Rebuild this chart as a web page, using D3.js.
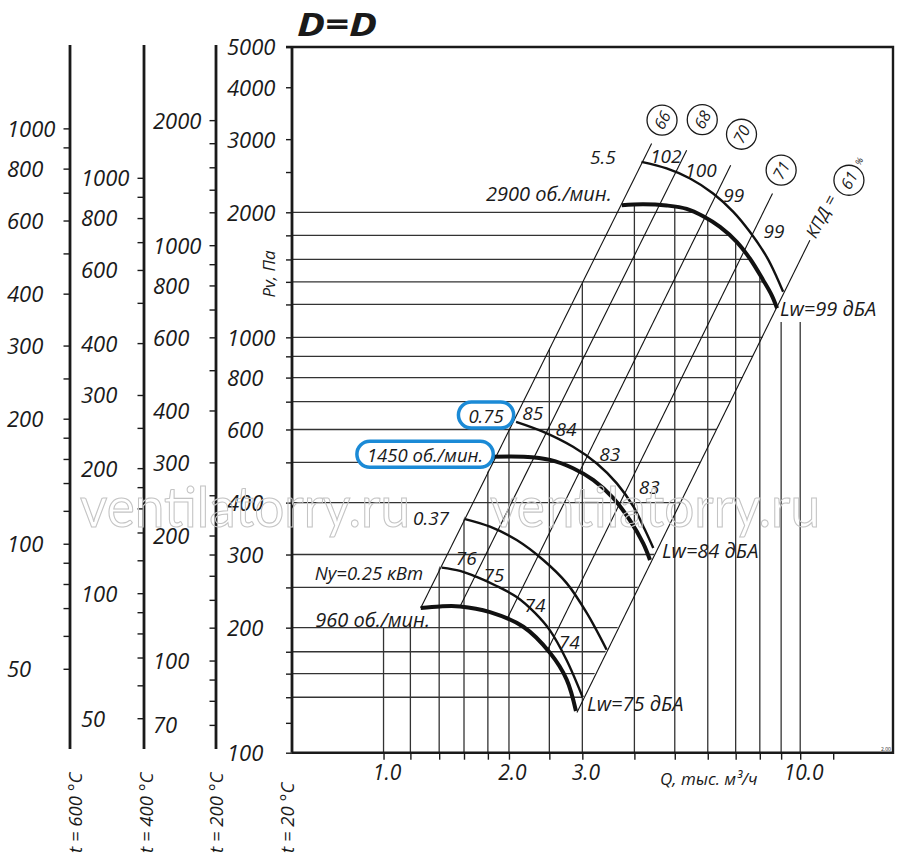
<!DOCTYPE html>
<html>
<head>
<meta charset="utf-8">
<script src="https://cdn.jsdelivr.net/npm/d3@7"></script>
<style>
  body { margin: 0; background: #fff; }
  svg text { font-family: "Open Sans", "DejaVu Sans", sans-serif; font-style: italic; fill: #1a1a1a; }
</style>
</head>
<body>
<svg id="chart" width="900" height="860"></svg>
<script>
// ---- values ----
var qRange = [0.603, 16.7];          // Q, thousand m3/h (log)
var pRange = [100, 5000];            // Pv, Pa (log)

var qTicks  = [1, 1.16, 1.36, 1.56, 1.78, 2, 2.5, 3, 4, 5, 6, 7, 8, 9, 10, 12];
var qGrid   = [1, 1.16, 1.36, 1.56, 1.78, 2, 2.5, 3, 4, 5, 6, 7, 8, 9, 10];
var qLabels = [1, 2, 3, 10];

var pTicks  = [5000, 4000, 3000, 2500, 2000, 1760, 1540, 1360, 1200, 1000, 900, 800, 700, 600,
               500, 400, 300, 250, 200, 175, 155, 136, 118, 100];
var pGrid   = [2000, 1760, 1540, 1360, 1200, 1000, 900, 800, 700, 600, 500, 400, 300, 250,
               200, 175, 155, 136, 118];
var pLabels = [5000, 4000, 3000, 2000, 1000, 800, 600, 400, 300, 200, 100];

// pressure scales for hot gas
var tempNames  = ["t = 600 °C", "t = 400 °C", "t = 200 °C"];
var tempRatio  = [0.314, 0.413, 0.6];
var tempTicks  = [
  [1000, 900, 800, 700, 600, 500, 400, 300, 250, 200, 180, 160, 140, 120, 100, 90, 80, 70, 60, 50],
  [1000, 900, 800, 700, 600, 500, 400, 300, 250, 200, 180, 160, 140, 120, 100, 90, 80, 70, 60, 50],
  [2000, 1760, 1540, 1360, 1200, 1000, 900, 800, 700, 600, 500, 400, 300, 250, 200, 180, 160, 140, 120, 100, 90, 80, 70]
];
var tempLabels = [
  [1000, 800, 600, 400, 300, 200, 100, 50],
  [1000, 800, 600, 400, 300, 200, 100, 50],
  [2000, 1000, 800, 600, 400, 300, 200, 100, 70]
];

// fan curves (thick) and power curves (thin)
var q2900 = [3.73, 4.20, 4.78, 5.34, 5.85, 6.42, 7.04, 7.57, 8.15, 8.54, 8.80];
var p2900 = [2081, 2092, 2077, 2039, 1957, 1845, 1698, 1548, 1373, 1264, 1175];
var q1450 = [1.83, 2.17, 2.51, 2.85, 3.19, 3.56, 3.90, 4.20, 4.36];
var p1450 = [516, 516, 507, 484, 453, 410, 363, 319, 291];
var q960  = [1.228, 1.366, 1.526, 1.801, 2.165, 2.508, 2.751, 2.896];
var p960  = [223, 225, 225, 218, 201, 174, 150, 126];

var qN55  = [4.16, 4.78, 5.44, 6.18, 6.91, 7.57, 8.31, 8.78, 9.10];
var pN55  = [2645, 2550, 2412, 2220, 2005, 1795, 1562, 1398, 1287];
var qN075 = [2.08, 2.42, 2.85, 3.25, 3.63, 3.98, 4.24, 4.44];
var pN075 = [626, 592, 545, 497, 445, 391, 344, 311];
var qN037 = [1.569, 1.801, 2.087, 2.417, 2.751, 3.074, 3.431];
var pN037 = [365, 350, 325, 291, 256, 217, 177];
var qN025 = [1.379, 1.526, 1.673, 1.868, 2.087, 2.309, 2.508, 2.751, 3.006];
var pN025 = [279, 274, 265, 252, 237, 217, 197, 167, 136];

// efficiency (system) lines: top end, bottom end, circled mark
var effNames  = ["66", "68", "70", "71", "61"];
var effTop    = [[4.40, 2929], [5.34, 2821], [6.81, 2597], [8.58, 2220], [10.55, 1713]];
var effBottom = [[1.228, 223], [1.526, 225], [1.975, 209], [2.464, 175], [2.912, 125]];
var effMark   = [[4.66, 3333], [5.82, 3342], [7.23, 3083], [9.00, 2526], [13.09, 2389]];

// noise levels along the power curves
var noiseText = ["102", "100", "99", "99", "85", "84", "83", "83", "76", "75", "74", "74"];
var noiseQ    = [4.76, 5.78, 6.93, 8.65, 2.28, 2.74, 3.49, 4.34, 1.58, 1.84, 2.31, 2.79];
var noiseP    = [2729, 2526, 2199, 1802, 657, 601, 523, 436, 294, 268, 227, 185];

var vFloor = 200;      // verticals never stop below this pressure
var vRightTop = 1088;  // verticals right of the 2900 curve end

// ---- drawing ----
var frame = {left: 292, right: 893, top: 47, bottom: 752.7};
var svg = d3.select("#chart");
svg.append("rect").attr("width", 900).attr("height", 860).attr("fill", "#fff");

var x = d3.scaleLog().domain(qRange).range([frame.left, frame.right]);
var y = d3.scaleLog().domain(pRange).range([frame.bottom, frame.top]);

function pts(qs, ps) { return qs.map(function(q, i) { return [q, ps[i]]; }); }
var lineGen = d3.line()
  .x(function(d) { return x(d[0]); })
  .y(function(d) { return y(d[1]); })
  .curve(d3.curveCatmullRom.alpha(0.5));

var c2900 = pts(q2900, p2900);
var curveD = lineGen(c2900).slice(1);
var last = q960.length - 1;
var k66 = effTop[0][1] / (effTop[0][0] * effTop[0][0]);
var qFloor = Math.sqrt(vFloor / k66);

var defs = svg.append("defs");
defs.append("clipPath").attr("id", "hclip").append("path")
  .attr("d", "M" + (frame.left - 8) + "," + y(p2900[0]) + "L" + curveD +
    "L" + x(q960[last]) + "," + y(p960[last]) +
    "L" + (frame.left - 8) + "," + y(p960[last]) + "Z");
defs.append("clipPath").attr("id", "vclip").append("path")
  .attr("d", "M" + frame.left + "," + (frame.bottom + 10) +
    "L" + frame.left + "," + y(vFloor) +
    "L" + x(qFloor) + "," + y(vFloor) +
    "L" + curveD +
    "L" + x(q2900[q2900.length - 1]) + "," + y(vRightTop) +
    "L" + frame.right + "," + y(vRightTop) +
    "L" + frame.right + "," + (frame.bottom + 10) + "Z");

// grid
svg.append("g").attr("clip-path", "url(#hclip)")
  .selectAll("line").data(pGrid).join("line")
  .attr("x1", frame.left).attr("x2", frame.right)
  .attr("y1", function(d) { return y(d); }).attr("y2", function(d) { return y(d); })
  .attr("stroke", "#333").attr("stroke-width", 1.3);
svg.append("g").attr("clip-path", "url(#vclip)")
  .selectAll("line").data(qGrid).join("line")
  .attr("x1", function(d) { return x(d); }).attr("x2", function(d) { return x(d); })
  .attr("y1", frame.bottom).attr("y2", frame.top)
  .attr("stroke", "#333").attr("stroke-width", 1.3);

// efficiency lines
svg.append("g").selectAll("line").data(effNames).join("line")
  .attr("x1", function(d, i) { return x(effTop[i][0]); })
  .attr("y1", function(d, i) { return y(effTop[i][1]); })
  .attr("x2", function(d, i) { return x(effBottom[i][0]); })
  .attr("y2", function(d, i) { return y(effBottom[i][1]); })
  .attr("stroke", "#111").attr("stroke-width", 1.1);

// power curves (thin) and fan curves (thick)
var thin = [pts(qN55, pN55), pts(qN075, pN075), pts(qN037, pN037), pts(qN025, pN025)];
var thick = [c2900, pts(q1450, p1450), pts(q960, p960)];
svg.append("g").selectAll("path").data(thin).join("path")
  .attr("d", lineGen).attr("fill", "none").attr("stroke", "#111").attr("stroke-width", 2.4);
svg.append("g").selectAll("path").data(thick).join("path")
  .attr("d", lineGen).attr("fill", "none").attr("stroke", "#111").attr("stroke-width", 4);

// frame
svg.append("path")
  .attr("d", "M" + (frame.left - 6) + "," + frame.top + "H" + frame.right + "V" + frame.bottom + "H" + frame.left)
  .attr("fill", "none").attr("stroke", "#1a1a1a").attr("stroke-width", 2.4);

// main pressure axis (t = 20 °C)
var yAxis = svg.append("g").attr("transform", "translate(" + frame.left + ",0)")
  .call(d3.axisLeft(y).tickValues(pTicks).tickSize(6)
    .tickFormat(function(d) { return pLabels.indexOf(d) >= 0 ? d : ""; }));
yAxis.select(".domain").remove();
yAxis.append("line").attr("y1", frame.top).attr("y2", frame.bottom)
  .attr("stroke", "#1a1a1a").attr("stroke-width", 2.8);
yAxis.selectAll(".tick line").attr("stroke", "#1a1a1a").attr("stroke-width", 1.4);
yAxis.selectAll("text").attr("x", -65).attr("text-anchor", "start")
  .attr("font-size", 22).attr("dy", "0.36em");

// hot gas pressure axes
var tempAxisX = [70, 144, 216];
tempNames.forEach(function(name, i) {
  var yt = d3.scaleLog().domain([pRange[0] * tempRatio[i], pRange[1] * tempRatio[i]])
    .range([frame.bottom, frame.top]);
  var g = svg.append("g").attr("transform", "translate(" + tempAxisX[i] + ",0)")
    .call(d3.axisLeft(yt).tickValues(tempTicks[i]).tickSize(6.5)
      .tickFormat(function(d) { return tempLabels[i].indexOf(d) >= 0 ? d : ""; }));
  g.select(".domain").remove();
  g.append("line").attr("y1", 45).attr("y2", 749)
    .attr("stroke", "#1a1a1a").attr("stroke-width", 2.8);
  g.selectAll(".tick line").attr("stroke", "#1a1a1a").attr("stroke-width", 1.4);
  g.selectAll("text").attr("x", -63).attr("text-anchor", "start")
    .attr("font-size", 22).attr("dy", "0.36em");
});

// temperature captions
var tempCaptionX = [74, 145, 215, 286];
tempNames.concat(["t = 20 °C"]).forEach(function(name, i) {
  svg.append("text")
    .attr("transform", "translate(" + tempCaptionX[i] + ",853) rotate(-90)")
    .attr("dominant-baseline", "central")
    .attr("font-size", 18.5).text(name);
});

// flow axis
var xAxis = svg.append("g").attr("transform", "translate(0," + frame.bottom + ")")
  .call(d3.axisBottom(x).tickValues(qTicks).tickSize(7)
    .tickFormat(function(d) { return qLabels.indexOf(d) >= 0 ? d3.format(".1f")(d) : ""; }));
xAxis.select(".domain").remove();
xAxis.selectAll(".tick line").attr("stroke", "#1a1a1a").attr("stroke-width", 1.4);
xAxis.selectAll("text").attr("y", 20).attr("dy", "0.36em").attr("dx", 3)
  .attr("font-size", 21);

svg.append("text").attr("x", 660).attr("y", 785).attr("font-size", 17)
  .text("Q, тыс. м³/ч");
svg.append("text")
  .attr("transform", "translate(268,274) rotate(-90)")
  .attr("text-anchor", "middle").attr("dominant-baseline", "central")
  .attr("font-size", 17).text("Pv, Па");

// title
svg.append("text").attr("x", 297).attr("y", 35.5)
  .attr("font-size", 32).attr("font-weight", 700)
  .attr("textLength", 80).attr("lengthAdjust", "spacingAndGlyphs").text("D=D");

// efficiency marks
var marks = svg.append("g").selectAll("g").data(effNames).join("g")
  .attr("transform", function(d, i) { return "translate(" + x(effMark[i][0]) + "," + y(effMark[i][1]) + ")"; });
marks.append("circle").attr("r", 15).attr("fill", "#fff")
  .attr("stroke", "#1a1a1a").attr("stroke-width", 1.3);
marks.append("text").attr("transform", "rotate(-62)")
  .attr("text-anchor", "middle").attr("dominant-baseline", "central")
  .attr("font-size", 16).text(function(d) { return d; });

svg.append("text")
  .attr("transform", "translate(" + x(11.21) + "," + y(1957) + ") rotate(-62)")
  .attr("text-anchor", "middle").attr("dominant-baseline", "central")
  .attr("font-size", 17).text("КПД =");
svg.append("text")
  .attr("transform", "translate(" + x(13.83) + "," + y(2655) + ") rotate(-62)")
  .attr("text-anchor", "middle").attr("dominant-baseline", "central")
  .attr("font-size", 9).text("%");

// noise figures
svg.append("g").selectAll("text").data(noiseText).join("text")
  .attr("x", function(d, i) { return x(noiseQ[i]); })
  .attr("y", function(d, i) { return y(noiseP[i]); })
  .attr("text-anchor", "middle").attr("dominant-baseline", "central")
  .attr("font-size", 19).text(function(d) { return d; });

// other captions
var notes = [
  {t: "5.5", q: 3.36, p: 2715, a: "middle", s: 19},
  {t: "2900 об./мин.", q: 3.53, p: 2223, a: "end", s: 20},
  {t: "Lw=99 дБА", q: 8.94, p: 1176, a: "start", s: 20},
  {t: "Lw=84 дБА", q: 4.66, p: 306, a: "start", s: 20},
  {t: "Lw=75 дБА", q: 3.08, p: 131, a: "start", s: 20},
  {t: "0.37", q: 1.30, p: 367, a: "middle", s: 19},
  {t: "Ny=0.25 кВт", q: 1.244, p: 272, a: "end", s: 18.5},
  {t: "960 об./мин.", q: 1.293, p: 209, a: "end", s: 20}
];
svg.append("g").selectAll("text").data(notes).join("text")
  .attr("x", function(d) { return x(d.q); })
  .attr("y", function(d) { return y(d.p); })
  .attr("text-anchor", function(d) { return d.a; })
  .attr("dominant-baseline", "central")
  .attr("font-size", function(d) { return d.s; }).text(function(d) { return d.t; });

// highlighted captions
var boxed = [{t: "0.75", q: 1.762, p: 650}, {t: "1450 об./мин.", q: 1.258, p: 523}];
boxed.forEach(function(b) {
  var g = svg.append("g").attr("transform", "translate(" + x(b.q) + "," + y(b.p) + ")");
  var r = g.append("rect").attr("fill", "#fff").attr("stroke", "#1b8ad6").attr("stroke-width", 3.5);
  var t = g.append("text").attr("text-anchor", "middle").attr("dominant-baseline", "central")
    .attr("font-size", 18.5).text(b.t);
  var w = t.node().getComputedTextLength() + 20;
  r.attr("x", -w / 2).attr("y", -13).attr("width", w).attr("height", 26).attr("rx", 13);
});

// watermark
[80, 490].forEach(function(wx) {
  svg.append("text").attr("x", wx).attr("y", 527)
    .attr("font-size", 56).style("font-style", "normal").style("font-family", "Lato, sans-serif")
    .attr("textLength", 330).attr("lengthAdjust", "spacingAndGlyphs")
    .style("fill", "none").attr("stroke", "#c4c4c4").attr("stroke-width", 1.1)
    .text("ventilatorry.ru");
});

svg.append("text").attr("x", 881).attr("y", 751).attr("font-size", 5)
  .style("font-style", "normal").text("2.00");
</script>
</body>
</html>
